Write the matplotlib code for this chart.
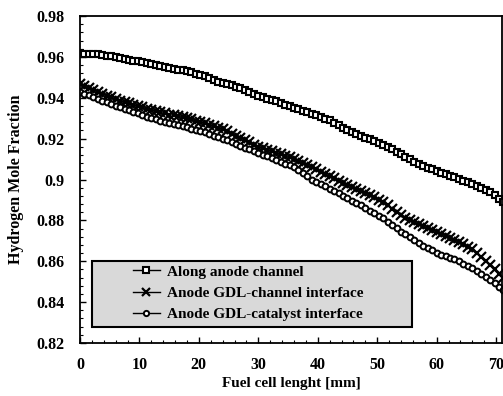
import numpy as np
import matplotlib
matplotlib.use("Agg")
import matplotlib.pyplot as plt
from matplotlib.patches import Rectangle
from matplotlib.ticker import MultipleLocator, FuncFormatter

# Position along the fuel cell [mm], one sample every 0.75 mm
position_mm = np.arange(0, 72, 0.75)

# Hydrogen mole fraction along the anode channel
along_channel = [
    0.9617, 0.9616, 0.9615, 0.9613, 0.9612, 0.9609, 0.9606, 0.9603,
    0.9600, 0.9596, 0.9591, 0.9586, 0.9582, 0.9578, 0.9574, 0.9569,
    0.9565, 0.9560, 0.9555, 0.9549, 0.9545, 0.9541, 0.9538, 0.9534,
    0.9530, 0.9524, 0.9518, 0.9512, 0.9505, 0.9496, 0.9487, 0.9478,
    0.9470, 0.9465, 0.9460, 0.9454, 0.9448, 0.9439, 0.9430, 0.9420,
    0.9410, 0.9403, 0.9396, 0.9389, 0.9382, 0.9374, 0.9366, 0.9358,
    0.9350, 0.9343, 0.9336, 0.9329, 0.9322, 0.9314, 0.9306, 0.9298,
    0.9290, 0.9277, 0.9265, 0.9253, 0.9240, 0.9231, 0.9223, 0.9214,
    0.9205, 0.9196, 0.9188, 0.9179, 0.9170, 0.9159, 0.9148, 0.9136,
    0.9125, 0.9112, 0.9100, 0.9088, 0.9075, 0.9066, 0.9058, 0.9049,
    0.9040, 0.9033, 0.9025, 0.9018, 0.9010, 0.9003, 0.8995, 0.8988,
    0.8980, 0.8970, 0.8960, 0.8950, 0.8940, 0.8924, 0.8907, 0.8889,
]

# Hydrogen mole fraction at the anode GDL / channel interface
gdl_channel = [
    0.9465, 0.9456, 0.9447, 0.9439, 0.9430, 0.9420, 0.9411, 0.9402,
    0.9392, 0.9385, 0.9379, 0.9372, 0.9365, 0.9359, 0.9353, 0.9346,
    0.9340, 0.9335, 0.9329, 0.9323, 0.9318, 0.9314, 0.9309, 0.9305,
    0.9300, 0.9294, 0.9288, 0.9281, 0.9275, 0.9268, 0.9260, 0.9253,
    0.9245, 0.9235, 0.9225, 0.9215, 0.9205, 0.9194, 0.9183, 0.9171,
    0.9160, 0.9153, 0.9145, 0.9138, 0.9130, 0.9123, 0.9115, 0.9108,
    0.9100, 0.9090, 0.9080, 0.9070, 0.9060, 0.9049, 0.9038, 0.9026,
    0.9015, 0.9005, 0.8995, 0.8985, 0.8975, 0.8965, 0.8955, 0.8945,
    0.8935, 0.8924, 0.8913, 0.8901, 0.8890, 0.8874, 0.8858, 0.8842,
    0.8825, 0.8814, 0.8803, 0.8791, 0.8780, 0.8771, 0.8763, 0.8754,
    0.8745, 0.8735, 0.8725, 0.8715, 0.8705, 0.8694, 0.8683, 0.8671,
    0.8660, 0.8640, 0.8620, 0.8600, 0.8580, 0.8560, 0.8539, 0.8518,
]

# Hydrogen mole fraction at the anode GDL / catalyst interface
gdl_catalyst = [
    0.9428, 0.9420, 0.9412, 0.9403, 0.9395, 0.9386, 0.9378, 0.9369,
    0.9360, 0.9353, 0.9345, 0.9338, 0.9330, 0.9323, 0.9315, 0.9308,
    0.9300, 0.9294, 0.9288, 0.9281, 0.9275, 0.9270, 0.9265, 0.9260,
    0.9255, 0.9249, 0.9243, 0.9236, 0.9230, 0.9223, 0.9215, 0.9208,
    0.9200, 0.9191, 0.9183, 0.9174, 0.9165, 0.9156, 0.9148, 0.9139,
    0.9130, 0.9121, 0.9113, 0.9104, 0.9095, 0.9086, 0.9078, 0.9069,
    0.9060, 0.9045, 0.9030, 0.9015, 0.9000, 0.8989, 0.8978, 0.8966,
    0.8955, 0.8944, 0.8933, 0.8921, 0.8910, 0.8897, 0.8885, 0.8873,
    0.8860, 0.8847, 0.8835, 0.8823, 0.8810, 0.8794, 0.8778, 0.8762,
    0.8745, 0.8732, 0.8718, 0.8703, 0.8690, 0.8677, 0.8665, 0.8653,
    0.8640, 0.8633, 0.8625, 0.8618, 0.8610, 0.8599, 0.8588, 0.8576,
    0.8565, 0.8552, 0.8538, 0.8524, 0.8510, 0.8493, 0.8476, 0.8460,
]

series_labels = [
    "Along anode channel",
    "Anode GDL-channel interface",
    "Anode GDL-catalyst interface",
]

plt.rcParams["font.family"] = ["Liberation Serif", "DejaVu Serif"]
plt.rcParams["font.weight"] = "bold"

fig = plt.figure(figsize=(5.03, 3.96), dpi=100)
ax = fig.add_axes([80 / 503, 53 / 396, 422 / 503, 327 / 396])

ax.plot(position_mm, along_channel, color="black", lw=1.0, marker="s",
        markersize=4.6, markerfacecolor="white", markeredgecolor="black",
        markeredgewidth=1.5, label=series_labels[0])
ax.plot(position_mm, gdl_channel, color="black", lw=1.0, marker="x",
        markersize=6.5, markeredgewidth=1.6, label=series_labels[1])
ax.plot(position_mm, gdl_catalyst, color="black", lw=1.0, marker="o",
        markersize=4.2, markerfacecolor="white", markeredgecolor="black",
        markeredgewidth=1.4, label=series_labels[2])

ax.set_xlim(0, 71)
ax.set_ylim(0.82, 0.98)

ax.xaxis.set_major_locator(MultipleLocator(10))
ax.xaxis.set_minor_locator(MultipleLocator(2))
ax.yaxis.set_major_locator(MultipleLocator(0.02))
ax.yaxis.set_minor_locator(MultipleLocator(0.004))
ax.yaxis.set_major_formatter(FuncFormatter(
    lambda v, p: "0.9" if abs(v - 0.9) < 1e-9 else f"{v:.2f}"))

ax.tick_params(which="both", direction="in", top=False, right=False,
               labelsize=11.5)
ax.tick_params(which="major", length=4, width=1.0)
ax.tick_params(which="minor", length=2.5, width=0.8)
ax.tick_params(axis="x", pad=10)
ax.tick_params(axis="y", pad=11)
for lbl in ax.get_xticklabels() + ax.get_yticklabels():
    lbl.set_fontweight("bold")

for side in ["left", "bottom", "top", "right"]:
    ax.spines[side].set_linewidth(1.3)

ax.set_xlabel("Fuel cell lenght [mm]", fontsize=11, fontweight="bold", labelpad=3)
ax.set_ylabel("Hydrogen Mole Fraction", fontsize=11.5, fontweight="bold", labelpad=9)

# grey legend panel
ax.add_patch(Rectangle((0.028, 0.049), 0.759, 0.202, transform=ax.transAxes,
                       facecolor="#d9d9d9", edgecolor="black", lw=1.5, zorder=4))
leg = ax.legend(loc="center left", bbox_to_anchor=(0.1256, 0.152), frameon=False,
                prop={"family": ["Liberation Serif"], "weight": "bold", "size": 11},
                handlelength=1.75, handletextpad=0.5, labelspacing=0.5,
                markerscale=0.9, borderaxespad=0, borderpad=0)
leg.set_zorder(5)

fig.savefig("out.png", dpi=100)
